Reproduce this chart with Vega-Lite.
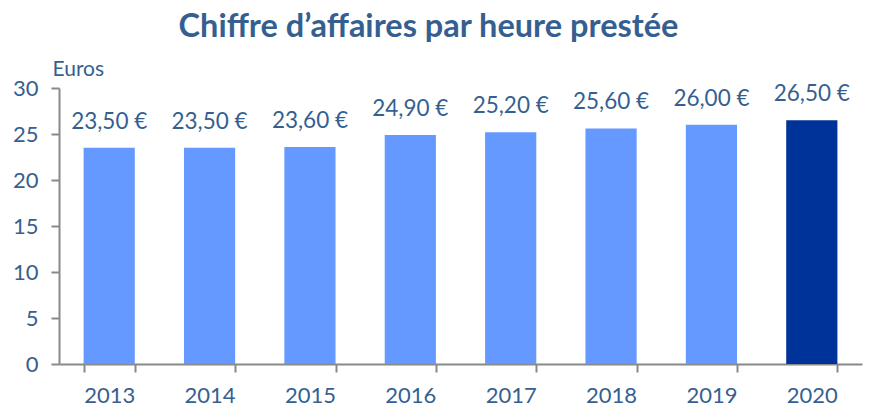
{
  "$schema": "https://vega.github.io/schema/vega-lite/v6.json",
  "width": 803,
  "height": 276,
  "autosize": {"type": "none"},
  "padding": {"left": 59, "top": 88, "right": 7, "bottom": 45},
  "title": {
    "text": "Chiffre d’affaires par heure prestée",
    "font": "Lato",
    "fontSize": 32.5,
    "fontWeight": "bold",
    "color": "#365F91",
    "anchor": "middle",
    "dx": -32,
    "offset": 15
  },
  "data": {
    "values": [
      {"year": "2013", "value": 23.5},
      {"year": "2014", "value": 23.5},
      {"year": "2015", "value": 23.6},
      {"year": "2016", "value": 24.9},
      {"year": "2017", "value": 25.2},
      {"year": "2018", "value": 25.6},
      {"year": "2019", "value": 26.0},
      {"year": "2020", "value": 26.5}
    ]
  },
  "transform": [
    {"calculate": "replace(format(datum.value, '.2f'), '.', ',') + ' €'", "as": "label"}
  ],
  "encoding": {
    "x": {
      "field": "year",
      "type": "ordinal",
      "scale": {"paddingInner": 0.49, "paddingOuter": 0.245},
      "axis": {
        "title": null,
        "labelAngle": 0,
        "tickBand": "extent",
        "tickSize": 8,
        "tickWidth": 2,
        "tickColor": "#898989",
        "domainColor": "#898989",
        "domainWidth": 2,
        "labelFont": "Lato",
        "labelFontSize": 22,
        "labelColor": "#365F91",
        "labelBaseline": "alphabetic",
        "labelPadding": 30
      }
    },
    "y": {
      "field": "value",
      "type": "quantitative",
      "scale": {"domain": [0, 30]},
      "axis": {
        "values": [0, 5, 10, 15, 20, 25, 30],
        "grid": false,
        "title": "Euros",
        "titleAngle": 0,
        "titleAlign": "left",
        "titleBaseline": "alphabetic",
        "titleX": -7,
        "titleY": -13,
        "titleFont": "Lato",
        "titleFontSize": 21,
        "titleFontWeight": "normal",
        "titleColor": "#365F91",
        "tickSize": 8,
        "tickWidth": 2,
        "tickColor": "#898989",
        "domainColor": "#898989",
        "domainWidth": 2,
        "labelFont": "Lato",
        "labelFontSize": 22,
        "labelColor": "#365F91",
        "labelPadding": 13
      }
    }
  },
  "layer": [
    {
      "mark": {"type": "bar"},
      "encoding": {
        "color": {
          "condition": {"test": "datum.year == '2020'", "value": "#003399"},
          "value": "#6699FF"
        }
      }
    },
    {
      "mark": {
        "type": "text",
        "baseline": "alphabetic",
        "dy": -19,
        "font": "Lato",
        "fontSize": 22.5,
        "color": "#365F91"
      },
      "encoding": {
        "text": {"field": "label", "type": "nominal"}
      }
    }
  ],
  "config": {
    "view": {"stroke": null}
  }
}
